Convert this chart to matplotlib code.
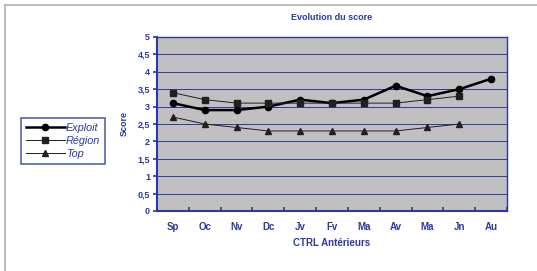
import numpy as np
import matplotlib
matplotlib.use('Agg')
import matplotlib.pyplot as plt
from matplotlib.lines import Line2D

plt.rcParams['font.family'] = ['Liberation Sans', 'DejaVu Sans']

months = ['Sp', 'Oc', 'Nv', 'Dc', 'Jv', 'Fv', 'Ma', 'Av', 'Ma', 'Jn', 'Au']
exploit = [3.1, 2.9, 2.9, 3.0, 3.2, 3.1, 3.2, 3.6, 3.3, 3.5, 3.8]
region = [3.4, 3.2, 3.1, 3.1, 3.1, 3.1, 3.1, 3.1, 3.2, 3.3, np.nan]
top = [2.7, 2.5, 2.4, 2.3, 2.3, 2.3, 2.3, 2.3, 2.4, 2.5, np.nan]
yticks = [0, 0.5, 1, 1.5, 2, 2.5, 3, 3.5, 4, 4.5, 5]

blue = '#2b3aa0'

fig = plt.figure(figsize=(5.37, 2.71), dpi=100)
# outer frame (top and left edges only, as in the scan)
fx, fy = 5 / 537, 1 - 5 / 271
fig.lines.append(Line2D([fx, 1], [fy, fy], transform=fig.transFigure, color='#b0b0b0', lw=1.2))
fig.lines.append(Line2D([fx, fx], [0, fy], transform=fig.transFigure, color='#b0b0b0', lw=1.2))

ax = fig.add_axes([157 / 537, 1 - 211 / 271, 350 / 537, 174 / 271])
ax.set_facecolor('#c0c0c0')
x = np.arange(len(months))

ax.plot(x, exploit, color='black', lw=1.8, marker='o', ms=4.5, label='Exploit')
ax.plot(x, region, color='#202020', lw=0.7, marker='s', ms=4.5, label='Région')
ax.plot(x, top, color='#202020', lw=0.7, marker='^', ms=4.5, label='Top')

ax.set_xlim(-0.5, len(months) - 0.5)
ax.set_ylim(0, 5)
ax.set_yticks(yticks)
ax.set_yticklabels([('%g' % v).replace('.', ',') for v in yticks])
for v in yticks[1:]:
    ax.axhline(v, color=blue, lw=0.7, zorder=1)

ax.set_xticks(np.arange(-0.5, len(months) + 0.5, 1))
ax.set_xticklabels([])
ax.set_xticks(x, minor=True)
ax.set_xticklabels(months, minor=True)
ax.tick_params(axis='x', which='major', direction='in', length=3, color=blue, width=1.2)
ax.tick_params(axis='x', which='minor', length=0, pad=8, labelsize=7, labelcolor=blue)
ax.tick_params(axis='y', direction='out', length=3, color=blue, width=1.2, labelsize=6.5,
               labelcolor=blue, pad=2)
for lbl in ax.get_xticklabels(minor=True) + ax.get_yticklabels():
    lbl.set_fontweight('bold')

for side in ['left', 'bottom', 'top', 'right']:
    ax.spines[side].set_color(blue)
ax.spines['left'].set_linewidth(1.5)
ax.spines['bottom'].set_linewidth(1.5)
ax.spines['top'].set_linewidth(1.0)
ax.spines['right'].set_linewidth(1.0)

ax.set_title('Evolution du score', fontsize=6.5, color=blue, fontweight='bold', pad=12)
ax.set_ylabel('Score', fontsize=6.5, color=blue, fontweight='bold', labelpad=6)
ax.set_xlabel('CTRL Antérieurs', fontsize=7, color=blue, fontweight='bold', labelpad=4)

leg = fig.legend(loc='center', bbox_to_anchor=(63 / 537, 1 - 141 / 271), fontsize=7.8,
                 frameon=True, fancybox=False, handlelength=3.6, borderpad=0.45,
                 labelspacing=0.25, handletextpad=0.1, borderaxespad=0)
leg.get_frame().set_edgecolor(blue)
leg.get_frame().set_linewidth(1.2)
for t in leg.get_texts():
    t.set_color(blue)
    t.set_fontstyle('italic')

fig.savefig('out.png', dpi=100)
